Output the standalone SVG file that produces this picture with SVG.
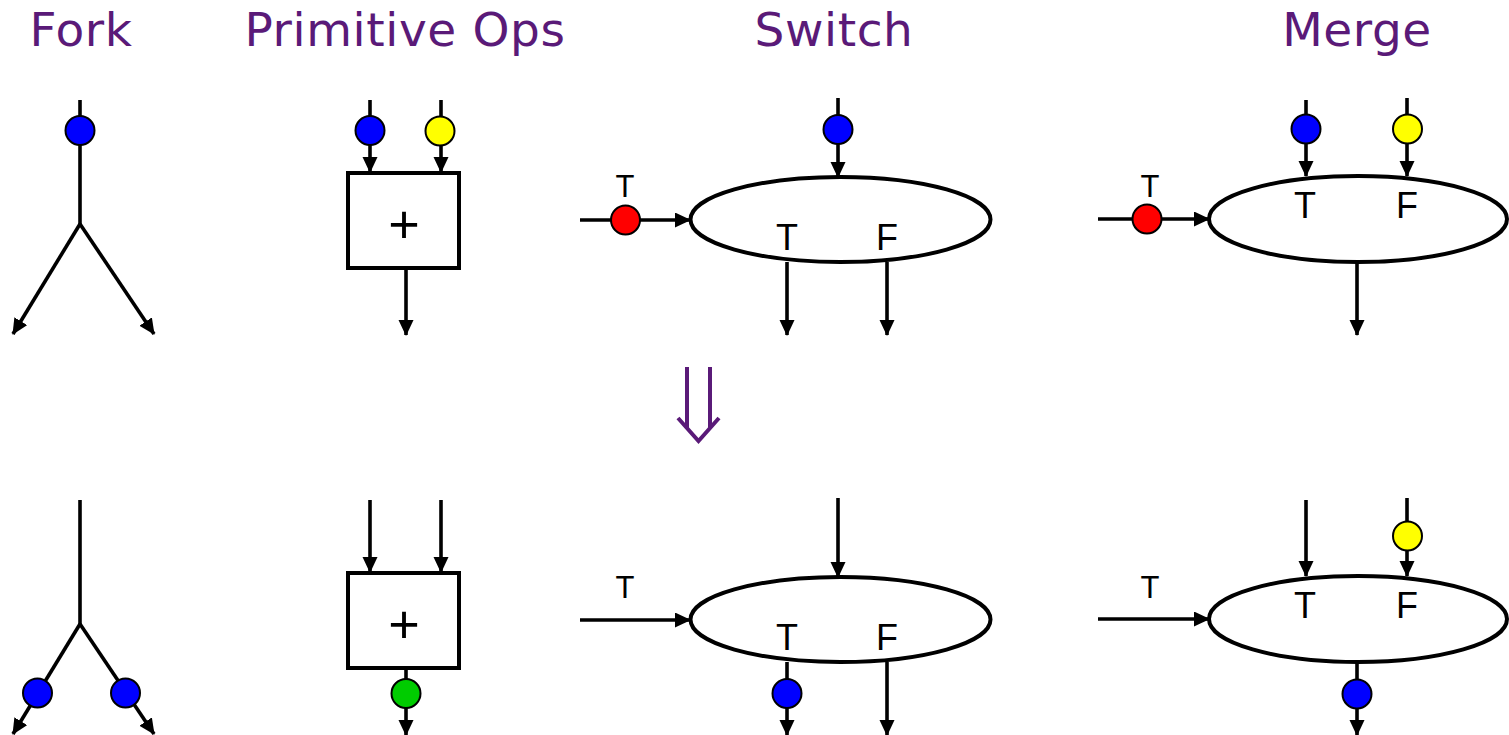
<svg xmlns="http://www.w3.org/2000/svg" width="1509" height="735" viewBox="0 0 1509 735">
<defs>
<marker id="ah" markerUnits="userSpaceOnUse" markerWidth="18" markerHeight="16" refX="15" refY="7.5" orient="auto">
<path d="M0,0 L16,7.5 L0,15 z" fill="#000"/>
</marker>
</defs>
<style>
.title{font-family:"DejaVu Sans",Verdana,sans-serif;font-size:47px;letter-spacing:0.6px;fill:#5a1a78;text-anchor:middle}
.lbl{font-family:"Liberation Sans",Arial,sans-serif;font-size:36px;fill:#000;text-anchor:middle}
.sl{font-family:"Liberation Sans",Arial,sans-serif;font-size:31px;fill:#000;text-anchor:middle}
.plus{font-family:"Liberation Sans",Arial,sans-serif;font-size:54px;fill:#000;text-anchor:middle}
.w{stroke:#000;stroke-width:3.6;fill:none}
.a{stroke:#000;stroke-width:3.6;fill:none;marker-end:url(#ah)}
.shape{stroke:#000;stroke-width:4;fill:#fff}
.tok{stroke:#000;stroke-width:2}
.blue{fill:#0000ff}.yellow{fill:#ffff00}.red{fill:#ff0000}.green{fill:#00cc00}
</style>
<rect width="1509" height="735" fill="#fff"/>
<g id="titles">
<text class="title" x="81" y="46">Fork</text>
<text class="title" x="405" y="46">Primitive Ops</text>
<text class="title" x="834" y="46">Switch</text>
<text class="title" x="1357" y="46">Merge</text>
</g>
<g id="connectors">
<path class="w" d="M80,100 V224"/>
<path class="a" d="M80,224 L13,334"/>
<path class="a" d="M80,224 L154,334"/>
<path class="a" d="M370,100 V172"/>
<path class="a" d="M441,100 V172"/>
<path class="a" d="M406,268 V335"/>
<path class="a" d="M838,98 V177"/>
<path class="a" d="M580,220 H690"/>
<path class="a" d="M787,262 V335"/>
<path class="a" d="M887,262 V335"/>
<path class="a" d="M1306,100 V176"/>
<path class="a" d="M1407,98 V176"/>
<path class="a" d="M1098,219 H1209"/>
<path class="a" d="M1357,262 V335"/>
<path class="w" d="M80,500 V624"/>
<path class="a" d="M80,624 L13,734"/>
<path class="a" d="M80,624 L154,734"/>
<path class="a" d="M370,500 V572"/>
<path class="a" d="M441,500 V572"/>
<path class="a" d="M406,668 V735"/>
<path class="a" d="M838,498 V577"/>
<path class="a" d="M580,620 H690"/>
<path class="a" d="M787,662 V735"/>
<path class="a" d="M887,662 V735"/>
<path class="a" d="M1306,500 V576"/>
<path class="a" d="M1407,498 V576"/>
<path class="a" d="M1098,619 H1209"/>
<path class="a" d="M1357,662 V735"/>
</g>
<g id="fork-top">
<circle class="tok blue" cx="80" cy="130.5" r="14.5"/>
</g>
<g id="prim-top">
<rect class="shape" x="348" y="173" width="111" height="95"/>
<text class="plus" x="404" y="243">+</text>
<circle class="tok blue" cx="370" cy="130.5" r="14.5"/>
<circle class="tok yellow" cx="440" cy="131" r="14.5"/>
</g>
<g id="switch-top">
<ellipse class="shape" cx="840.5" cy="219.5" rx="150" ry="42.5"/>
<text class="lbl" x="787" y="250">T</text>
<text class="lbl" x="887" y="250">F</text>
<circle class="tok blue" cx="838" cy="129.5" r="14.5"/>
<circle class="tok red" cx="625.5" cy="220" r="14.5"/>
<text class="sl" x="625" y="197">T</text>
</g>
<g id="merge-top">
<ellipse class="shape" cx="1358" cy="219" rx="149" ry="43"/>
<text class="lbl" x="1305" y="218">T</text>
<text class="lbl" x="1407" y="218">F</text>
<circle class="tok blue" cx="1306" cy="129" r="14.5"/>
<circle class="tok yellow" cx="1407.5" cy="129" r="14.5"/>
<circle class="tok red" cx="1147" cy="219" r="14.5"/>
<text class="sl" x="1150" y="197">T</text>
</g>
<g id="transform-arrow">
<path d="M687,367 V428 M710,367 V428 M678,418 L698.5,441 L719,418" fill="none" stroke="#5a1a78" stroke-width="4"/>
</g>
<g id="fork-bottom">
<circle class="tok blue" cx="37.5" cy="693" r="14.5"/>
<circle class="tok blue" cx="125.5" cy="693" r="14.5"/>
</g>
<g id="prim-bottom">
<rect class="shape" x="348" y="573" width="111" height="95"/>
<text class="plus" x="404" y="643">+</text>
<circle class="tok green" cx="406" cy="693.5" r="14.5"/>
</g>
<g id="switch-bottom">
<ellipse class="shape" cx="840.5" cy="619.5" rx="150" ry="42.5"/>
<text class="lbl" x="787" y="650">T</text>
<text class="lbl" x="887" y="650">F</text>
<circle class="tok blue" cx="787" cy="693.5" r="14.5"/>
<text class="sl" x="625" y="598">T</text>
</g>
<g id="merge-bottom">
<ellipse class="shape" cx="1358" cy="619" rx="149" ry="43"/>
<text class="lbl" x="1305" y="618">T</text>
<text class="lbl" x="1407" y="618">F</text>
<circle class="tok yellow" cx="1407.5" cy="536" r="14.5"/>
<circle class="tok blue" cx="1357" cy="694" r="14.5"/>
<text class="sl" x="1150" y="598">T</text>
</g>
</svg>
